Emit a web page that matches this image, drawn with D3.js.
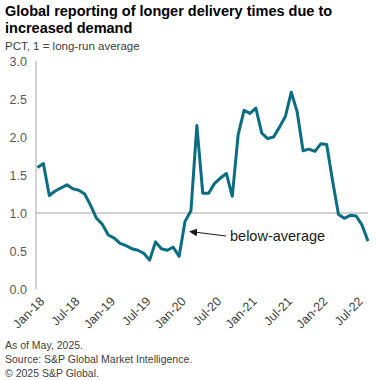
<!DOCTYPE html>
<html>
<head>
<meta charset="utf-8">
<script src="https://cdn.jsdelivr.net/npm/d3@7"></script>
<style>
  body { margin: 0; background: #fff; }
  text { font-family: "Liberation Sans", Arial, sans-serif; }
</style>
</head>
<body>
<svg width="377" height="380"></svg>
<script>
// months Jan-18 .. Sep-22
const months = [
  "Jan-18","Feb-18","Mar-18","Apr-18","May-18","Jun-18","Jul-18","Aug-18","Sep-18","Oct-18","Nov-18","Dec-18",
  "Jan-19","Feb-19","Mar-19","Apr-19","May-19","Jun-19","Jul-19","Aug-19","Sep-19","Oct-19","Nov-19","Dec-19",
  "Jan-20","Feb-20","Mar-20","Apr-20","May-20","Jun-20","Jul-20","Aug-20","Sep-20","Oct-20","Nov-20","Dec-20",
  "Jan-21","Feb-21","Mar-21","Apr-21","May-21","Jun-21","Jul-21","Aug-21","Sep-21","Oct-21","Nov-21","Dec-21",
  "Jan-22","Feb-22","Mar-22","Apr-22","May-22","Jun-22","Jul-22","Aug-22","Sep-22"
];
const values = [
  1.60, 1.65, 1.23, 1.29, 1.33, 1.37, 1.32, 1.30, 1.25, 1.10, 0.93, 0.85,
  0.71, 0.67, 0.60, 0.57, 0.53, 0.51, 0.47, 0.38, 0.62, 0.53, 0.51, 0.55,
  0.43, 0.89, 1.03, 2.15, 1.26, 1.26, 1.39, 1.46, 1.52, 1.22, 2.03, 2.35,
  2.31, 2.38, 2.05, 1.98, 2.00, 2.13, 2.27, 2.59, 2.33, 1.82, 1.84, 1.81,
  1.91, 1.90, 1.42, 0.98, 0.93, 0.97, 0.96, 0.84, 0.63
];
const xTicks = ["Jan-18","Jul-18","Jan-19","Jul-19","Jan-20","Jul-20","Jan-21","Jul-21","Jan-22","Jul-22"];
const yTicks = [0, 0.5, 1, 1.5, 2, 2.5, 3];

const svg = d3.select("svg");
const x = d3.scalePoint().domain(months).range([37.5, 368]);
const y = d3.scaleLinear().domain([0, 3]).range([289, 61]);

// title block
svg.append("text").attr("x", 5).attr("y", 16)
  .style("font-size", "14.5px").style("font-weight", "bold").attr("fill", "#000")
  .text("Global reporting of longer delivery times due to");
svg.append("text").attr("x", 5).attr("y", 33)
  .style("font-size", "14.5px").style("font-weight", "bold").attr("fill", "#000")
  .text("increased demand");
svg.append("text").attr("x", 5).attr("y", 50)
  .style("font-size", "11.5px").attr("fill", "#404040")
  .text("PCT, 1 = long-run average");

// y axis
const yAxis = svg.append("g").attr("transform", "translate(30,0)")
  .call(d3.axisLeft(y).tickValues(yTicks).tickFormat(d3.format(".1f")).tickSize(0).tickPadding(3));
yAxis.select(".domain").remove();
yAxis.selectAll("text").style("font-size", "12.5px").attr("fill", "#595959");

svg.append("line").attr("x1", 36).attr("x2", 36).attr("y1", y(3)).attr("y2", y(0))
  .attr("stroke", "#a6a6a6").attr("stroke-width", 1);

// long-run average line
svg.append("line").attr("x1", 36).attr("x2", 368).attr("y1", y(1)).attr("y2", y(1))
  .attr("stroke", "#a6a6a6").attr("stroke-width", 1.2);

// x axis
const xAxis = svg.append("g").attr("transform", `translate(0,${y(0)})`)
  .call(d3.axisBottom(x).tickValues(xTicks).tickSize(0).tickPadding(0));
xAxis.select(".domain").remove();
xAxis.selectAll("text")
  .style("font-size", "12.5px").attr("fill", "#404040")
  .attr("text-anchor", "end")
  .attr("transform", "translate(4,10) rotate(-45)")
  .attr("dy", "0.35em").attr("y", 0);

// series line
svg.append("path").datum(values)
  .attr("fill", "none").attr("stroke", "#0b6d84").attr("stroke-width", 3)
  .attr("stroke-linejoin", "round")
  .attr("d", d3.line().x((d, i) => x(months[i])).y(d => y(d)));

// annotation
svg.append("defs").append("marker").attr("id", "arr")
  .attr("viewBox", "0 0 10 10").attr("refX", 9).attr("refY", 5)
  .attr("markerWidth", 8).attr("markerHeight", 8).attr("orient", "auto-start-reverse")
  .append("path").attr("d", "M0,0L10,5L0,10Z").attr("fill", "#1a1a1a");
svg.append("line").attr("x1", 226).attr("y1", 236).attr("x2", 190).attr("y2", 231.5)
  .attr("stroke", "#1a1a1a").attr("stroke-width", 1).attr("marker-end", "url(#arr)");
svg.append("text").attr("x", 230).attr("y", 241)
  .style("font-size", "14.5px").attr("fill", "#1a1a1a").text("below-average");

// footer
const notes = ["As of May, 2025.", "Source: S&P Global Market Intelligence.", "\u00a9 2025 S&P Global."];
svg.append("g").selectAll("text").data(notes).enter().append("text")
  .attr("x", 5).attr("y", (d, i) => 349 + i * 14)
  .style("font-size", "10.5px").attr("fill", "#404040")
  .text(d => d);
</script>
</body>
</html>
